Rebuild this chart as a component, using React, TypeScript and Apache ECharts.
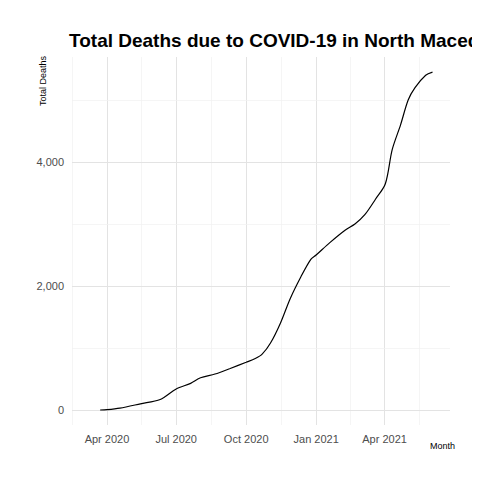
import { useEffect, useRef } from 'react'
import * as echarts from 'echarts'

const dates = [
  '2020-03-23', '2020-04-01', '2020-04-18', '2020-05-15', '2020-06-10', '2020-07-01',
  '2020-07-20', '2020-08-02', '2020-08-21', '2020-09-10', '2020-10-01', '2020-10-13',
  '2020-10-22', '2020-11-02', '2020-11-15', '2020-11-28', '2020-12-12', '2020-12-25',
  '2021-01-01', '2021-01-19', '2021-02-08', '2021-02-21', '2021-03-06', '2021-03-20',
  '2021-04-02', '2021-04-11', '2021-04-22', '2021-05-02', '2021-05-11', '2021-05-25',
  '2021-06-03',
]
const deaths = [
  0, 5, 30, 100, 170, 340,
  430, 520, 580, 670, 770, 830,
  900, 1080, 1400, 1800, 2150, 2430,
  2500, 2700, 2900, 3000, 3150, 3400,
  3650, 4200, 4600, 5000, 5200, 5400,
  5450,
]
const labelDates = ['2020-04-01', '2020-07-01', '2020-10-01', '2021-01-01', '2021-04-01']
const minorDates = ['2020-02-15', '2020-05-16', '2020-08-16', '2020-11-16', '2021-02-15', '2021-05-16']
const monthNames = ['Jan', 'Feb', 'Mar', 'Apr', 'May', 'Jun', 'Jul', 'Aug', 'Sep', 'Oct', 'Nov', 'Dec']

const font = '"Liberation Sans Narrow", "Liberation Sans", sans-serif'

export default function App() {
  const ref = useRef<HTMLDivElement>(null)

  useEffect(() => {
    if (!ref.current) return
    const chart = echarts.init(ref.current, null, { renderer: 'svg' })
    const ts = (d: string) => new Date(d + 'T00:00:00Z').getTime()
    chart.setOption({
      animation: false,
      backgroundColor: '#fff',
      title: {
        text: 'Total Deaths due to COVID-19 in North Macedonia',
        left: 56, top: 18,
        textStyle: { fontFamily: font, fontSize: 19, fontWeight: 'bold', color: '#000' },
      },
      graphic: [
        { type: 'text', x: 30, y: 98, rotation: Math.PI / 2, style: { text: 'Total Deaths', fontFamily: font, fontSize: 9, fill: '#000' } },
        { type: 'text', x: 422, y: 433, style: { text: 'Month', fontFamily: font, fontSize: 9, fill: '#000' } },
      ],
      grid: { left: 64, right: 22, top: 49, bottom: 47 },
      xAxis: {
        type: 'value',
        min: ts('2020-02-15'),
        max: ts('2021-06-26'),
        axisLine: { show: false },
        axisTick: { show: false },
        splitLine: { show: false },
        axisLabel: {
          customValues: labelDates.map(ts),
          color: '#4d4d4d', fontFamily: font, fontSize: 11, margin: 8,
          formatter: (v: number) => {
            const d = new Date(v)
            return monthNames[d.getUTCMonth()] + ' ' + d.getUTCFullYear()
          },
        },
      },
      yAxis: {
        type: 'value',
        min: -242, max: 5694,
        axisLine: { show: false },
        axisTick: { show: false },
        splitLine: { show: false },
        axisLabel: {
          customValues: [0, 2000, 4000],
          color: '#4d4d4d', fontFamily: font, fontSize: 11,
        },
      },
      series: [
        {
          type: 'line',
          data: dates.map((d, i) => [ts(d), deaths[i]]),
          showSymbol: false,
          smooth: 0.3,
          lineStyle: { color: '#000', width: 1.2 },
          z: 5,
          markLine: {
            silent: true, symbol: 'none', label: { show: false },
            data: [
              ...labelDates.map((d) => ({ xAxis: ts(d), lineStyle: { color: '#e3e3e3', width: 1, type: 'solid' } })),
              ...minorDates.map((d) => ({ xAxis: ts(d), lineStyle: { color: '#f0f0f0', width: 0.7, type: 'solid' } })),
              ...[0, 2000, 4000].map((v) => ({ yAxis: v, lineStyle: { color: '#e3e3e3', width: 1, type: 'solid' } })),
              ...[1000, 3000, 5000].map((v) => ({ yAxis: v, lineStyle: { color: '#f0f0f0', width: 0.7, type: 'solid' } })),
            ],
          },
        },
      ],
    })
    return () => chart.dispose()
  }, [])

  return <div ref={ref} style={{ width: 464, height: 464 }} />
}
